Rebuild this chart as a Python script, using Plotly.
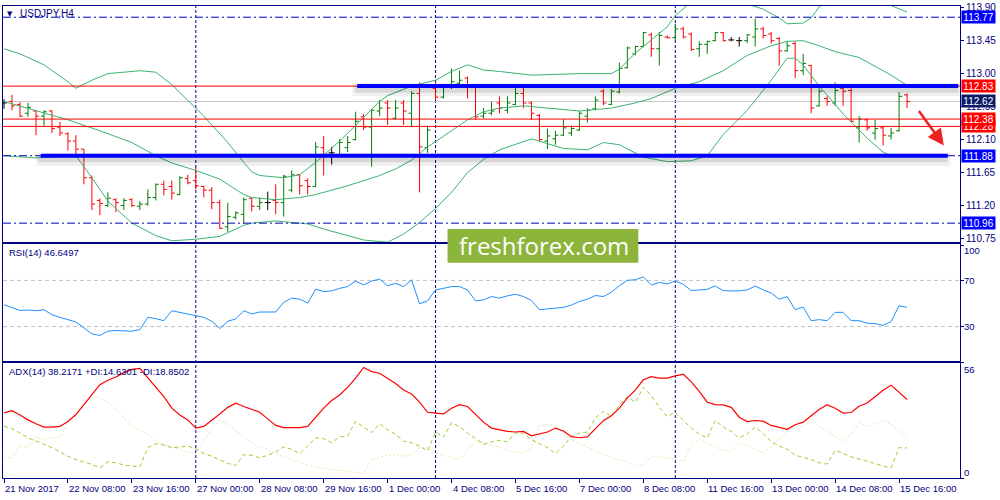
import plotly.graph_objects as go

# ---------------- data ----------------
x_tick_bars = [0, 8, 16, 24, 32, 40, 48, 56, 64, 72, 80, 88, 96, 104, 112]
x_tick_labels = ["21 Nov 2017", "22 Nov 08:00", "23 Nov 16:00", "27 Nov 00:00",
                 "28 Nov 08:00", "29 Nov 16:00", "1 Dec 00:00", "4 Dec 08:00",
                 "5 Dec 16:00", "7 Dec 00:00", "8 Dec 08:00", "11 Dec 16:00",
                 "13 Dec 00:00", "14 Dec 08:00", "15 Dec 16:00"]
week_start_bars = [24, 54, 84]

opens = [112.60, 112.62, 112.58, 112.46, 112.49, 112.42, 112.49, 112.27, 112.18, 112.08,
         111.97, 111.58, 111.27, 111.20, 111.28, 111.20, 111.28, 111.19, 111.22, 111.31,
         111.49, 111.46, 111.35, 111.57, 111.54, 111.46, 111.41, 111.24, 110.91, 111.04,
         111.08, 111.30, 111.19, 111.24, 111.27, 111.24, 111.41, 111.62, 111.54, 111.46,
         111.99, 111.92, 111.89, 111.99, 112.10, 112.41, 112.27, 112.49, 112.60, 112.39,
         112.60, 112.46, 112.73, 111.99, 112.80, 112.68, 112.81, 112.87, 112.94, 112.83,
         112.42, 112.46, 112.60, 112.50, 112.58, 112.73, 112.60, 112.43, 112.08, 112.11,
         112.16, 112.19, 112.23, 112.42, 112.52, 112.76, 112.58, 112.75, 113.08, 113.27,
         113.37, 113.53, 113.34, 113.50, 113.49, 113.61, 113.54, 113.34, 113.40, 113.45,
         113.56, 113.46, 113.45, 113.45, 113.50, 113.61, 113.54, 113.48, 113.31, 113.41,
         113.04, 113.11, 112.56, 112.66, 112.60, 112.80, 112.77, 112.26, 112.37, 112.19,
         112.26, 112.15, 112.22, 112.71]
highs = [112.65, 112.71, 112.61, 112.60, 112.50, 112.50, 112.50, 112.34, 112.20, 112.16,
         111.97, 111.61, 111.30, 111.38, 111.30, 111.30, 111.30, 111.26, 111.42, 111.50,
         111.54, 111.54, 111.60, 111.62, 111.72, 111.47, 111.45, 111.28, 111.24, 111.12,
         111.31, 111.31, 111.31, 111.39, 111.49, 111.62, 111.68, 111.63, 111.57, 112.07,
         112.15, 112.00, 112.11, 112.15, 112.48, 112.45, 112.51, 112.64, 112.64, 112.64,
         112.64, 112.76, 112.88, 112.29, 112.89, 112.83, 113.07, 113.04, 112.96, 112.84,
         112.53, 112.62, 112.69, 112.69, 112.85, 112.85, 112.62, 112.45, 112.25, 112.22,
         112.38, 112.29, 112.49, 112.53, 112.69, 112.79, 112.79, 113.15, 113.37, 113.38,
         113.57, 113.56, 113.57, 113.52, 113.68, 113.64, 113.56, 113.44, 113.45, 113.57,
         113.57, 113.50, 113.50, 113.54, 113.75, 113.64, 113.57, 113.50, 113.44, 113.44,
         113.27, 113.12, 112.80, 112.69, 112.88, 112.83, 112.80, 112.42, 112.39, 112.37,
         112.29, 112.26, 112.75, 112.73]
lows = [112.52, 112.50, 112.41, 112.41, 112.16, 112.29, 112.19, 112.15, 111.95, 111.88,
        111.49, 111.14, 111.07, 111.18, 111.11, 111.14, 111.18, 111.14, 111.20, 111.27,
        111.34, 111.28, 111.34, 111.49, 111.42, 111.31, 111.15, 110.88, 110.84, 111.01,
        110.95, 111.12, 111.14, 111.14, 111.08, 111.05, 111.38, 111.35, 111.35, 111.45,
        111.61, 111.76, 111.88, 111.93, 112.09, 112.23, 111.73, 112.42, 112.30, 112.37,
        112.30, 112.27, 111.38, 111.92, 112.64, 112.66, 112.79, 112.83, 112.66, 112.37,
        112.39, 112.43, 112.46, 112.46, 112.57, 112.53, 112.37, 112.08, 111.97, 112.03,
        112.15, 112.15, 112.22, 112.33, 112.50, 112.57, 112.57, 112.73, 113.07, 113.25,
        113.36, 113.23, 113.11, 113.48, 113.44, 113.48, 113.31, 113.23, 113.27, 113.44,
        113.44, 113.44, 113.37, 113.42, 113.37, 113.48, 113.41, 113.11, 113.30, 112.94,
        112.98, 112.46, 112.55, 112.56, 112.56, 112.56, 112.34, 112.06, 112.22, 112.10,
        112.02, 112.10, 112.21, 112.53]
closes = [112.60, 112.56, 112.42, 112.54, 112.42, 112.48, 112.25, 112.19, 112.08, 111.97,
          111.58, 111.22, 111.23, 111.30, 111.24, 111.27, 111.20, 111.22, 111.31, 111.49,
          111.42, 111.37, 111.58, 111.51, 111.47, 111.41, 111.24, 110.89, 111.05, 111.10,
          111.28, 111.19, 111.24, 111.24, 111.24, 111.60, 111.62, 111.47, 111.46, 112.00,
          111.88, 111.92, 112.06, 112.06, 112.35, 112.27, 112.50, 112.53, 112.53, 112.53,
          112.49, 112.73, 112.00, 112.23, 112.68, 112.81, 112.89, 112.91, 112.84, 112.41,
          112.46, 112.49, 112.53, 112.60, 112.73, 112.60, 112.46, 112.10, 112.15, 112.16,
          112.26, 112.25, 112.46, 112.50, 112.64, 112.60, 112.76, 113.07, 113.35, 113.37,
          113.56, 113.34, 113.52, 113.49, 113.61, 113.50, 113.33, 113.40, 113.44, 113.56,
          113.45, 113.46, 113.45, 113.53, 113.61, 113.52, 113.45, 113.31, 113.38, 113.04,
          113.14, 112.53, 112.76, 112.62, 112.77, 112.76, 112.35, 112.38, 112.26, 112.25,
          112.16, 112.19, 112.69, 112.62]

bb_up_x = [0, 2, 5, 8, 9, 11, 13, 17, 19, 21, 25, 28, 30, 31, 32, 35, 37, 38, 39, 42,
           45, 47, 48, 51, 54, 56, 58, 60, 62, 66, 72, 76, 77, 79, 81, 83, 84, 86, 88, 91,
           93, 95, 97, 98, 100, 101, 102, 105, 108, 111, 113]
bb_up = [113.34, 113.27, 113.12, 112.89, 112.80, 112.91, 113.00, 113.04, 113.02, 112.85,
         112.42, 112.06, 111.79, 111.66, 111.61, 111.58, 111.62, 111.70, 111.79, 112.08,
         112.40, 112.62, 112.70, 112.83, 112.91, 113.03, 113.12, 113.05, 113.03, 112.98,
         113.00, 113.00, 113.06, 113.28, 113.46, 113.64, 113.79, 113.98, 114.11, 114.11,
         113.95, 113.88, 113.76, 113.68, 113.69, 113.76, 113.91, 114.15, 114.11, 113.93,
         113.84]
bb_mid_x = [0, 4, 8, 12, 16, 19, 21, 24, 27, 30, 31, 34, 37, 39, 43, 47, 49, 51, 53, 56,
            58, 60, 62, 65, 68, 72, 76, 79, 81, 84, 87, 90, 93, 96, 98, 100, 102, 104, 107,
            109, 111, 113]
bb_mid = [112.62, 112.50, 112.37, 112.22, 112.06, 111.88, 111.78, 111.68, 111.56, 111.35,
          111.31, 111.28, 111.31, 111.35, 111.47, 111.61, 111.70, 111.82, 112.00, 112.22,
          112.37, 112.48, 112.53, 112.56, 112.53, 112.49, 112.53, 112.60, 112.66, 112.80,
          112.89, 113.04, 113.25, 113.38, 113.44, 113.45, 113.38, 113.30, 113.22, 113.10,
          112.98, 112.84]
bb_low_x = [0, 4, 9, 11, 13, 16, 19, 21, 24, 27, 28, 30, 31, 34, 37, 38, 40, 42, 45, 48,
            50, 52, 54, 56, 58, 60, 62, 66, 67, 70, 73, 75, 77, 80, 83, 86, 88, 90, 93, 96,
            98, 99, 100, 102, 104, 105, 107, 108, 110, 111, 113]
bb_low = [111.88, 111.85, 111.88, 111.58, 111.26, 110.96, 110.79, 110.72, 110.74, 110.78,
          110.83, 110.93, 110.96, 110.99, 110.96, 110.95, 110.88, 110.82, 110.73, 110.70,
          110.81, 110.97, 111.16, 111.38, 111.65, 111.83, 111.96, 112.11, 112.08, 111.98,
          111.96, 112.06, 112.03, 111.86, 111.80, 111.81, 111.88, 112.17, 112.50, 112.91,
          113.21, 113.21, 113.12, 112.83, 112.58, 112.45, 112.23, 112.12, 111.93, 111.88,
          111.88]

rsi = [48.9, 46.6, 44.0, 44.3, 43.7, 44.6, 40.3, 38.0, 36.0, 34.0,
       28.9, 23.7, 22.3, 26.0, 26.6, 26.6, 26.0, 27.4, 38.0, 36.9,
       35.1, 43.7, 42.3, 40.3, 38.9, 38.0, 34.6, 28.3, 34.6, 36.6,
       43.7, 40.9, 42.6, 42.6, 42.6, 51.1, 54.6, 53.7, 50.3, 62.3,
       60.3, 60.9, 63.1, 64.6, 69.4, 66.0, 69.4, 71.1, 65.4, 67.4,
       64.6, 70.3, 49.7, 52.3, 61.7, 63.1, 64.6, 64.6, 61.7, 52.3,
       53.1, 56.0, 54.6, 56.6, 58.0, 56.0, 52.6, 44.6, 45.1, 46.0,
       46.6, 48.6, 51.7, 53.7, 56.9, 56.0, 59.7, 65.4, 70.0, 70.6,
       72.9, 66.0, 68.3, 66.9, 69.4, 66.6, 61.1, 61.7, 62.3, 65.1,
       61.1, 60.9, 60.9, 61.7, 65.1, 61.7, 59.1, 53.7, 56.0, 44.6,
       46.9, 35.1, 36.0, 35.1, 42.3, 42.3, 35.1, 35.1, 32.9, 32.6,
       31.1, 34.3, 48.0, 46.6497]

adx = [31.7, 32.8, 30.7, 28.3, 26.4, 24.8, 24.8, 25.1, 27.5, 30.9,
       35.7, 40.6, 45.4, 47.6, 49.2, 51.3, 52.9, 53.4, 48.9, 44.1,
       39.6, 34.0, 30.7, 28.3, 24.3, 25.1, 28.0, 31.2, 34.4, 36.4,
       34.8, 33.2, 32.0, 28.8, 25.6, 24.5, 24.5, 24.5, 25.1, 29.6,
       34.0, 37.7, 40.4, 44.1, 48.6, 53.8, 51.8, 51.0, 48.4, 46.0,
       42.8, 40.9, 36.9, 32.0, 31.6, 31.2, 34.0, 35.7, 34.8, 31.2,
       27.2, 24.3, 23.5, 22.7, 22.4, 22.7, 20.5, 21.3, 22.4, 24.3,
       22.9, 20.1, 19.6, 20.0, 24.0, 27.9, 30.3, 34.0, 39.0, 42.8,
       47.8, 49.3, 48.6, 48.6, 49.7, 50.5, 46.8, 42.2, 36.9, 35.7,
       35.6, 34.4, 29.6, 27.5, 28.0, 27.7, 25.6, 24.8, 23.7, 25.9,
       27.2, 30.3, 33.3, 35.7, 34.0, 31.6, 31.9, 34.9, 36.5, 39.6,
       42.7, 45.2, 41.5, 38.2171]
plus_di = [25.3, 24.0, 21.9, 19.6, 18.0, 16.4, 14.8, 12.7, 10.6, 9.0,
           7.9, 6.6, 5.0, 7.9, 7.4, 6.3, 5.8, 5.5, 14.8, 16.7,
           15.9, 14.8, 15.1, 15.5, 14.3, 11.9, 10.6, 8.7, 7.1, 6.1,
           11.4, 11.1, 9.8, 11.1, 12.7, 15.1, 13.9, 11.9, 15.5, 19.6,
           19.2, 17.2, 20.0, 20.5, 27.5, 24.8, 22.1, 26.4, 23.5, 21.3,
           17.9, 17.2, 15.5, 13.2, 22.4, 20.0, 26.9, 25.1, 21.9, 19.2,
           16.4, 17.6, 18.4, 17.6, 21.9, 21.9, 18.7, 16.7, 14.8, 11.9,
           15.5, 20.3, 21.9, 22.4, 29.3, 32.5, 29.9, 35.6, 39.6, 36.9,
           44.1, 40.1, 34.4, 29.9, 32.0, 28.0, 24.3, 21.3, 19.5, 28.0,
           24.8, 22.7, 19.5, 21.6, 24.8, 21.6, 17.9, 15.5, 14.0, 11.1,
           10.0, 9.0, 7.4, 6.8, 13.5, 11.9, 10.3, 9.2, 8.2, 7.1,
           5.8, 5.0, 14.8, 14.6301]
minus_di = [10.8, 9.5, 15.9, 14.8, 20.3, 18.7, 19.5, 20.0, 27.2, 31.2,
            36.1, 39.6, 39.0, 36.9, 33.6, 29.3, 25.1, 23.2, 21.3, 17.9,
            16.4, 14.8, 13.9, 12.6, 11.9, 18.0, 24.0, 28.3, 26.1, 23.2,
            20.3, 17.1, 15.1, 13.9, 11.9, 10.3, 9.0, 7.9, 6.3, 5.2,
            4.7, 4.2, 3.7, 3.2, 2.7, 2.3, 9.0, 10.0, 11.1, 11.4,
            10.6, 11.1, 14.8, 14.7, 12.2, 11.1, 10.0, 8.7, 13.5, 18.4,
            17.1, 15.9, 15.1, 13.2, 12.7, 12.1, 14.3, 25.4, 26.1, 25.6,
            22.1, 18.7, 16.9, 15.1, 13.2, 11.4, 10.0, 8.9, 7.6, 5.8,
            6.3, 10.3, 10.3, 9.5, 9.2, 8.2, 15.9, 18.8, 17.1, 15.0,
            13.5, 13.0, 17.1, 15.8, 14.0, 12.2, 15.1, 18.7, 21.9, 25.9,
            25.1, 28.7, 25.1, 22.7, 20.0, 17.9, 21.3, 26.7, 25.1, 26.7,
            28.0, 25.9, 22.9, 18.8502]

price_ticks = [113.90, 113.45, 113.00, 112.55, 112.10, 111.65, 111.20, 110.75]
levels_dashdot = [113.77, 111.88, 110.96]
levels_red = [112.83, 112.38, 112.28]
level_bid = 112.62
levels_thick_blue = [112.83, 111.88]
box_levels = [113.77, 112.83, 112.62, 112.28, 112.38, 111.88, 110.96]
box_kinds = ["blue", "red", "bid", "red", "red", "blue", "blue"]
rsi_levels = [70, 30]
rsi_scale_labels = [100, 70, 30, 0]
adx_scale_labels = [56, 0]
symbol_title = "USDJPY,H4"

# ---------------- style ----------------
NAVY = "#000080"
UP = "#007F00"
DOWN = "#FF0000"
BBC = "#3CB371"
FONT = "Liberation Sans, Arial, sans-serif"
FS = 9.5
box_colors = {"blue": "#0000FF", "red": "#FF0000", "bid": "#0C1C66"}

W, H = 1000, 500
ML, MR, MT, MB = 2, 40, 2, 22
PW, PH = W - ML - MR, H - MT - MB
PX_PER_BAR = 8.0
X0_BAR = -(1.0 / PX_PER_BAR)
XR = [X0_BAR, X0_BAR + PW / PX_PER_BAR]


def px_x(px):
    return (px - ML) / PW


def px_y(py):
    return (H - MB - py) / PH


bars = list(range(len(opens)))
nd = [i for i in bars if opens[i] != closes[i]]
dj = [i for i in bars if opens[i] == closes[i]]

fig = go.Figure()
fig.add_trace(go.Ohlc(
    x=nd, open=[opens[i] for i in nd], high=[highs[i] for i in nd],
    low=[lows[i] for i in nd], close=[closes[i] for i in nd],
    increasing=dict(line=dict(color=UP, width=1)),
    decreasing=dict(line=dict(color=DOWN, width=1)),
    tickwidth=0.375, xaxis="x", yaxis="y", hoverinfo="skip"))
fig.add_trace(go.Ohlc(
    x=dj, open=[opens[i] for i in dj], high=[highs[i] for i in dj],
    low=[lows[i] for i in dj], close=[closes[i] for i in dj],
    increasing=dict(line=dict(color="black", width=1)),
    decreasing=dict(line=dict(color="black", width=1)),
    tickwidth=0.375, xaxis="x", yaxis="y", hoverinfo="skip"))
for bx, by in [(bb_up_x, bb_up), (bb_mid_x, bb_mid), (bb_low_x, bb_low)]:
    fig.add_trace(go.Scatter(x=bx, y=by, mode="lines", line=dict(color=BBC, width=1),
                             xaxis="x", yaxis="y", hoverinfo="skip"))

fig.add_trace(go.Scatter(x=bars, y=rsi, mode="lines", line=dict(color="#1E90FF", width=1),
                         xaxis="x2", yaxis="y2", hoverinfo="skip"))

fig.add_trace(go.Scatter(x=bars, y=minus_di, mode="lines",
                         line=dict(color="#F5DEB3", width=1, dash="2px,2px"),
                         xaxis="x3", yaxis="y3", hoverinfo="skip"))
fig.add_trace(go.Scatter(x=bars, y=plus_di, mode="lines",
                         line=dict(color="#9ACD32", width=1, dash="4px,3px"),
                         xaxis="x3", yaxis="y3", hoverinfo="skip"))
fig.add_trace(go.Scatter(x=bars, y=adx, mode="lines", line=dict(color="#FF0000", width=1.2),
                         xaxis="x3", yaxis="y3", hoverinfo="skip"))

shapes = []
for b in week_start_bars:
    shapes.append(dict(type="line", xref="x", yref="paper", x0=b, x1=b, y0=0, y1=1,
                       line=dict(color=NAVY, width=1, dash="3px,2px"), layer="below"))
for lv in rsi_levels:
    shapes.append(dict(type="line", xref="x2 domain", yref="y2", x0=0, x1=1, y0=lv, y1=lv,
                       line=dict(color="#C0C0C0", width=1, dash="4px,3px"), layer="below"))
shapes.append(dict(type="line", xref="x domain", yref="y", x0=0, x1=1, y0=level_bid, y1=level_bid,
                   line=dict(color="#C8C8C8", width=1), layer="below"))
for lv in levels_dashdot:
    shapes.append(dict(type="line", xref="x domain", yref="y", x0=0, x1=1, y0=lv, y1=lv,
                       line=dict(color="#0000C0", width=1, dash="8px,3px,2px,3px"), layer="above"))
for lv in levels_red:
    shapes.append(dict(type="line", xref="x domain", yref="y", x0=0, x1=1, y0=lv, y1=lv,
                       line=dict(color="#FF0000", width=1), layer="above"))
# thick blue trend levels with a soft shadow (x extents are styling, in bars)
thick_extents = {112.83: (44.2, 119.4), 111.88: (4.6, 118.1)}
for lv in levels_thick_blue:
    a, b = thick_extents[lv]
    shapes.append(dict(type="rect", xref="x", yref="y", x0=a - 0.6, x1=b + 0.3,
                       y0=lv - 0.14, y1=lv + 0.04, fillcolor="rgba(0,0,0,0.06)",
                       line=dict(width=0), layer="above"))
    shapes.append(dict(type="rect", xref="x", yref="y", x0=a - 0.3, x1=b,
                       y0=lv - 0.09, y1=lv, fillcolor="rgba(0,0,0,0.10)",
                       line=dict(width=0), layer="above"))
    shapes.append(dict(type="line", xref="x", yref="y", x0=a, x1=b, y0=lv, y1=lv,
                       line=dict(color="#0000FF", width=4), layer="above"))
# watermark logo box
shapes.append(dict(type="rect", xref="paper", yref="paper",
                   x0=px_x(447), x1=px_x(638), y0=px_y(261), y1=px_y(227),
                   fillcolor="#8DB53C", line=dict(width=0), layer="above"))

ann = []
for lv, kind in zip(box_levels, box_kinds):
    ann.append(dict(xref="paper", yref="y", x=1, y=lv, xanchor="left", yanchor="middle",
                    xshift=1, text=f"{lv:.2f}", showarrow=False, width=33, height=12,
                    bgcolor=box_colors[kind], borderpad=0,
                    font=dict(family=FONT, size=FS + 0.5, color="white")))
ann.append(dict(xref="paper", yref="paper", x=px_x(9), y=px_y(10), xanchor="center",
                yanchor="middle", text="▼", showarrow=False,
                font=dict(family="DejaVu Sans", size=7, color=NAVY)))
ann.append(dict(xref="paper", yref="paper", x=px_x(17), y=px_y(10), xanchor="left",
                yanchor="middle", text=symbol_title, showarrow=False,
                font=dict(family=FONT, size=FS + 0.5, color=NAVY)))
ann.append(dict(xref="paper", yref="paper", x=px_x(6), y=px_y(251), xanchor="left",
                yanchor="middle", text=f"RSI(14) {rsi[-1]:.4f}", showarrow=False,
                font=dict(family=FONT, size=FS, color=NAVY)))
ann.append(dict(xref="paper", yref="paper", x=px_x(6), y=px_y(371), xanchor="left",
                yanchor="middle",
                text=f"ADX(14) {adx[-1]:.4f} +DI:{plus_di[-1]:.4f} -DI:{minus_di[-1]:.4f}",
                showarrow=False, font=dict(family=FONT, size=FS, color=NAVY)))
rsi_shift = {100: -5, 70: 0, 30: 0, 0: 7}
for v in rsi_scale_labels:
    ann.append(dict(xref="paper", yref="y2", x=1, y=v, xanchor="left", yanchor="middle",
                    xshift=2, yshift=rsi_shift[v], text=str(v), showarrow=False,
                    font=dict(family=FONT, size=FS, color=NAVY)))
adx_shift = {56: -7, 0: 6}
for v in adx_scale_labels:
    ann.append(dict(xref="paper", yref="y3", x=1, y=v, xanchor="left", yanchor="middle",
                    xshift=2, yshift=adx_shift[v], text=str(v), showarrow=False,
                    font=dict(family=FONT, size=FS, color=NAVY)))
for b, t in zip(x_tick_bars, x_tick_labels):
    ann.append(dict(xref="x3", yref="paper", x=b, y=0, xanchor="left", yanchor="top",
                    xshift=-1, yshift=-3, text=t, showarrow=False,
                    font=dict(family=FONT, size=FS, color=NAVY)))
ann.append(dict(xref="paper", yref="paper", x=px_x(544), y=px_y(244), xanchor="center",
                yanchor="middle", text="freshforex.com", showarrow=False,
                font=dict(family="Open Sans, sans-serif", size=24, color="white")))
# forecast arrow (down toward support)
ann.append(dict(xref="x", yref="y", x=117.6, y=112.02, ax=-26, ay=-36, text="",
                showarrow=True, arrowhead=2, arrowsize=1.3, arrowwidth=2.5,
                arrowcolor="#F02020", standoff=0))

ax_common = dict(showgrid=False, zeroline=False, showline=True, mirror=True,
                 linecolor=NAVY, linewidth=1, fixedrange=True)

fig.update_layout(
    width=W, height=H, margin=dict(l=ML, r=MR, t=MT, b=MB),
    paper_bgcolor="white", plot_bgcolor="white", showlegend=False, hovermode=False,
    xaxis=dict(domain=[0, 1], range=XR, anchor="y", showticklabels=False, ticks="",
               rangeslider=dict(visible=False), **ax_common),
    xaxis2=dict(domain=[0, 1], range=XR, matches="x", anchor="y2", showticklabels=False,
                ticks="", **ax_common),
    xaxis3=dict(domain=[0, 1], range=XR, matches="x", anchor="y3", showticklabels=False,
                ticks="outside", ticklen=4, tickcolor=NAVY, tickvals=x_tick_bars, **ax_common),
    yaxis=dict(domain=[px_y(240), 1], range=[113.95 - 0.01353 * 240, 113.95 - 0.01353 * 2],
               side="right", anchor="x", tickvals=price_ticks,
               ticktext=[f"{v:.2f}" for v in price_ticks], ticks="outside", ticklen=3,
               tickcolor=NAVY, tickfont=dict(family=FONT, size=FS + 0.5, color=NAVY),
               ticklabeloverflow="allow", **ax_common),
    yaxis2=dict(domain=[px_y(360), px_y(242)], range=[0.2, 101.5], side="right", anchor="x2",
                tickvals=rsi_scale_labels, showticklabels=False, ticks="outside", ticklen=3,
                tickcolor=NAVY, **ax_common),
    yaxis3=dict(domain=[0, px_y(362)], range=[0, 56], side="right", anchor="x3",
                tickvals=adx_scale_labels, showticklabels=False, ticks="outside", ticklen=3,
                tickcolor=NAVY, **ax_common),
    shapes=shapes, annotations=ann,
)

fig.write_html("out.html", config={"displayModeBar": False},
               post_script="document.body.style.margin='0px';document.body.style.overflow='hidden';")
